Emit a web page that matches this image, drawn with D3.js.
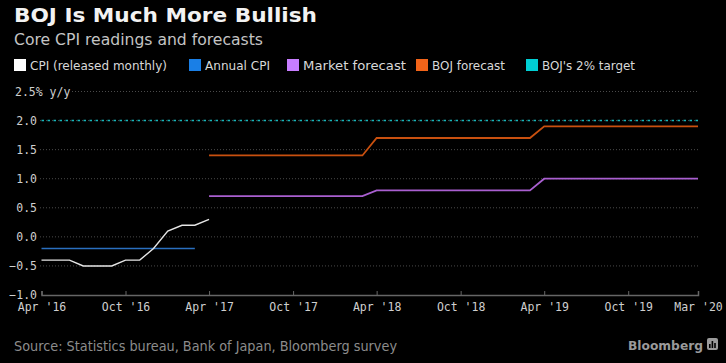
<!DOCTYPE html>
<html>
<head>
<meta charset="utf-8">
<script src="https://cdn.jsdelivr.net/npm/d3@7"></script>
<style>
  body { margin: 0; background: #000; }
  svg { display: block; background: #000; }
  .tick text { fill: #cfcfcf; font-family: "DejaVu Sans Mono", monospace; font-size: 11.5px; }
</style>
</head>
<body>
<div id="chart"></div>
<script>
// Chart data
const cpiDates = ["2016-04", "2016-05", "2016-06", "2016-07", "2016-08", "2016-09", "2016-10",
                  "2016-11", "2016-12", "2017-01", "2017-02", "2017-03", "2017-04"];
const cpiValues = [-0.4, -0.4, -0.4, -0.5, -0.5, -0.5, -0.4, -0.4, -0.2, 0.1, 0.2, 0.2, 0.3];

const annualDates = ["2016-04", "2017-03"];
const annualValues = [-0.2, -0.2];

const forecastDates = ["2017-04", "2018-03", "2018-04", "2019-03", "2019-04", "2020-03"];
const marketValues = [0.7, 0.7, 0.8, 0.8, 1.0, 1.0];
const bojValues = [1.4, 1.4, 1.7, 1.7, 1.9, 1.9];

const targetDates = ["2016-04", "2020-03"];
const targetValues = [2.0, 2.0];

const yTicks = [-1.0, -0.5, 0.0, 0.5, 1.0, 1.5, 2.0, 2.5];
const xTickDates = ["2016-04", "2016-10", "2017-04", "2017-10", "2018-04", "2018-10",
                    "2019-04", "2019-10", "2020-03"];

const legendLabels = ["CPI (released monthly)", "Annual CPI", "Market forecast", "BOJ forecast", "BOJ's 2% target"];
const legendColors = ["#ffffff", "#1a7fe6", "#c77dff", "#f26419", "#00cfd4"];

const width = 726, height = 363;
const parseMonth = d3.timeParse("%Y-%m");

const svg = d3.select("#chart").append("svg")
  .attr("width", width)
  .attr("height", height);

const x = d3.scaleTime()
  .domain([parseMonth("2016-04"), parseMonth("2020-03")])
  .range([41.5, 698]);
const y = d3.scaleLinear().domain([-1, 2.5]).range([295, 91.5]);

// Titles
svg.append("text")
  .attr("x", 14).attr("y", 22)
  .attr("font-family", "DejaVu Sans")
  .attr("font-weight", "bold")
  .attr("font-size", 20)
  .attr("fill", "#f2f2f2")
  .attr("textLength", 303)
  .attr("lengthAdjust", "spacingAndGlyphs")
  .text("BOJ Is Much More Bullish");

svg.append("text")
  .attr("x", 14).attr("y", 45)
  .attr("font-family", "DejaVu Sans")
  .attr("font-size", 16)
  .attr("fill", "#c4c4c4")
  .attr("textLength", 249)
  .attr("lengthAdjust", "spacingAndGlyphs")
  .text("Core CPI readings and forecasts");

// Legend
const legendX = [14, 189, 287, 416, 526];
const legendW = [137, 65, 103, 73, 93];
const legend = svg.append("g").selectAll("g")
  .data(legendLabels)
  .enter().append("g")
  .attr("transform", (d, i) => `translate(${legendX[i]},59)`);
legend.append("rect")
  .attr("width", 12).attr("height", 12)
  .attr("fill", (d, i) => legendColors[i]);
legend.append("text")
  .attr("x", 16).attr("y", 11)
  .attr("font-family", "DejaVu Sans")
  .attr("font-size", 12.5)
  .attr("fill", "#d8d8d8")
  .attr("textLength", (d, i) => legendW[i])
  .attr("lengthAdjust", "spacingAndGlyphs")
  .text(d => d);

// Grid lines
svg.append("g").selectAll("line")
  .data(yTicks.filter(d => d > -1))
  .enter().append("line")
  .attr("x1", d => d === 2.5 ? 72 : 40)
  .attr("x2", 698)
  .attr("y1", d => y(d)).attr("y2", d => y(d))
  .attr("stroke", "#4a4a4a")
  .attr("stroke-width", 1)
  .attr("stroke-dasharray", "1,2");

// Y axis labels
const yAxis = svg.append("g")
  .attr("transform", "translate(37,0)")
  .call(d3.axisLeft(y).tickValues(yTicks).tickSize(0).tickPadding(0)
    .tickFormat(d3.format(".1f")));
yAxis.select(".domain").remove();
yAxis.selectAll(".tick text")
  .filter(d => d === 2.5)
  .attr("text-anchor", "start")
  .attr("x", -22)
  .text("2.5% y/y");

// X axis
const xAxis = svg.append("g")
  .attr("transform", `translate(0,${y(-1)})`)
  .call(d3.axisBottom(x)
    .tickValues(xTickDates.map(parseMonth))
    .tickSize(-4)
    .tickPadding(8)
    .tickFormat(d3.timeFormat("%b '%y")));
xAxis.select(".domain").attr("stroke", "#666").attr("stroke-width", 1.5);
xAxis.selectAll(".tick line").attr("stroke", "#666");

// Lines
const line = d3.line()
  .x(d => x(d[0]))
  .y(d => y(d[1]));

function series(dates, values) {
  return dates.map((d, i) => [parseMonth(d), values[i]]);
}

svg.append("path")
  .datum(series(targetDates, targetValues))
  .attr("d", line)
  .attr("fill", "none")
  .attr("stroke", "#15b6bb")
  .attr("stroke-width", 1.6)
  .attr("stroke-dasharray", "2.5,3.5");

svg.append("path")
  .datum(series(annualDates, annualValues))
  .attr("d", line)
  .attr("fill", "none")
  .attr("stroke", "#2a6fbf")
  .attr("stroke-width", 1.6);

svg.append("path")
  .datum(series(cpiDates, cpiValues))
  .attr("d", line)
  .attr("fill", "none")
  .attr("stroke", "#e6e6e6")
  .attr("stroke-width", 1.4);

svg.append("path")
  .datum(series(forecastDates, marketValues))
  .attr("d", line)
  .attr("fill", "none")
  .attr("stroke", "#a95fd0")
  .attr("stroke-width", 1.8);

svg.append("path")
  .datum(series(forecastDates, bojValues))
  .attr("d", line)
  .attr("fill", "none")
  .attr("stroke", "#c9500f")
  .attr("stroke-width", 1.8);

// Footer
svg.append("text")
  .attr("x", 14).attr("y", 351)
  .attr("font-family", "DejaVu Sans")
  .attr("font-size", 13.5)
  .attr("fill", "#8c8c8c")
  .attr("textLength", 383)
  .attr("lengthAdjust", "spacingAndGlyphs")
  .text("Source: Statistics bureau, Bank of Japan, Bloomberg survey");

svg.append("text")
  .attr("x", 703).attr("y", 350)
  .attr("text-anchor", "end")
  .attr("font-family", "DejaVu Sans")
  .attr("font-weight", "bold")
  .attr("font-size", 13)
  .attr("fill", "#9a9a9a")
  .attr("textLength", 75)
  .attr("lengthAdjust", "spacingAndGlyphs")
  .text("Bloomberg");

const logo = svg.append("g").attr("transform", "translate(707,338)");
logo.append("rect")
  .attr("width", 11).attr("height", 12).attr("rx", 2)
  .attr("fill", "#9a9a9a");
logo.selectAll(".bar")
  .data([4, 7, 5])
  .enter().append("rect")
  .attr("x", (d, i) => 2 + i * 2.6)
  .attr("y", d => 10 - d)
  .attr("width", 1.6)
  .attr("height", d => d)
  .attr("fill", "#000");
</script>
</body>
</html>
